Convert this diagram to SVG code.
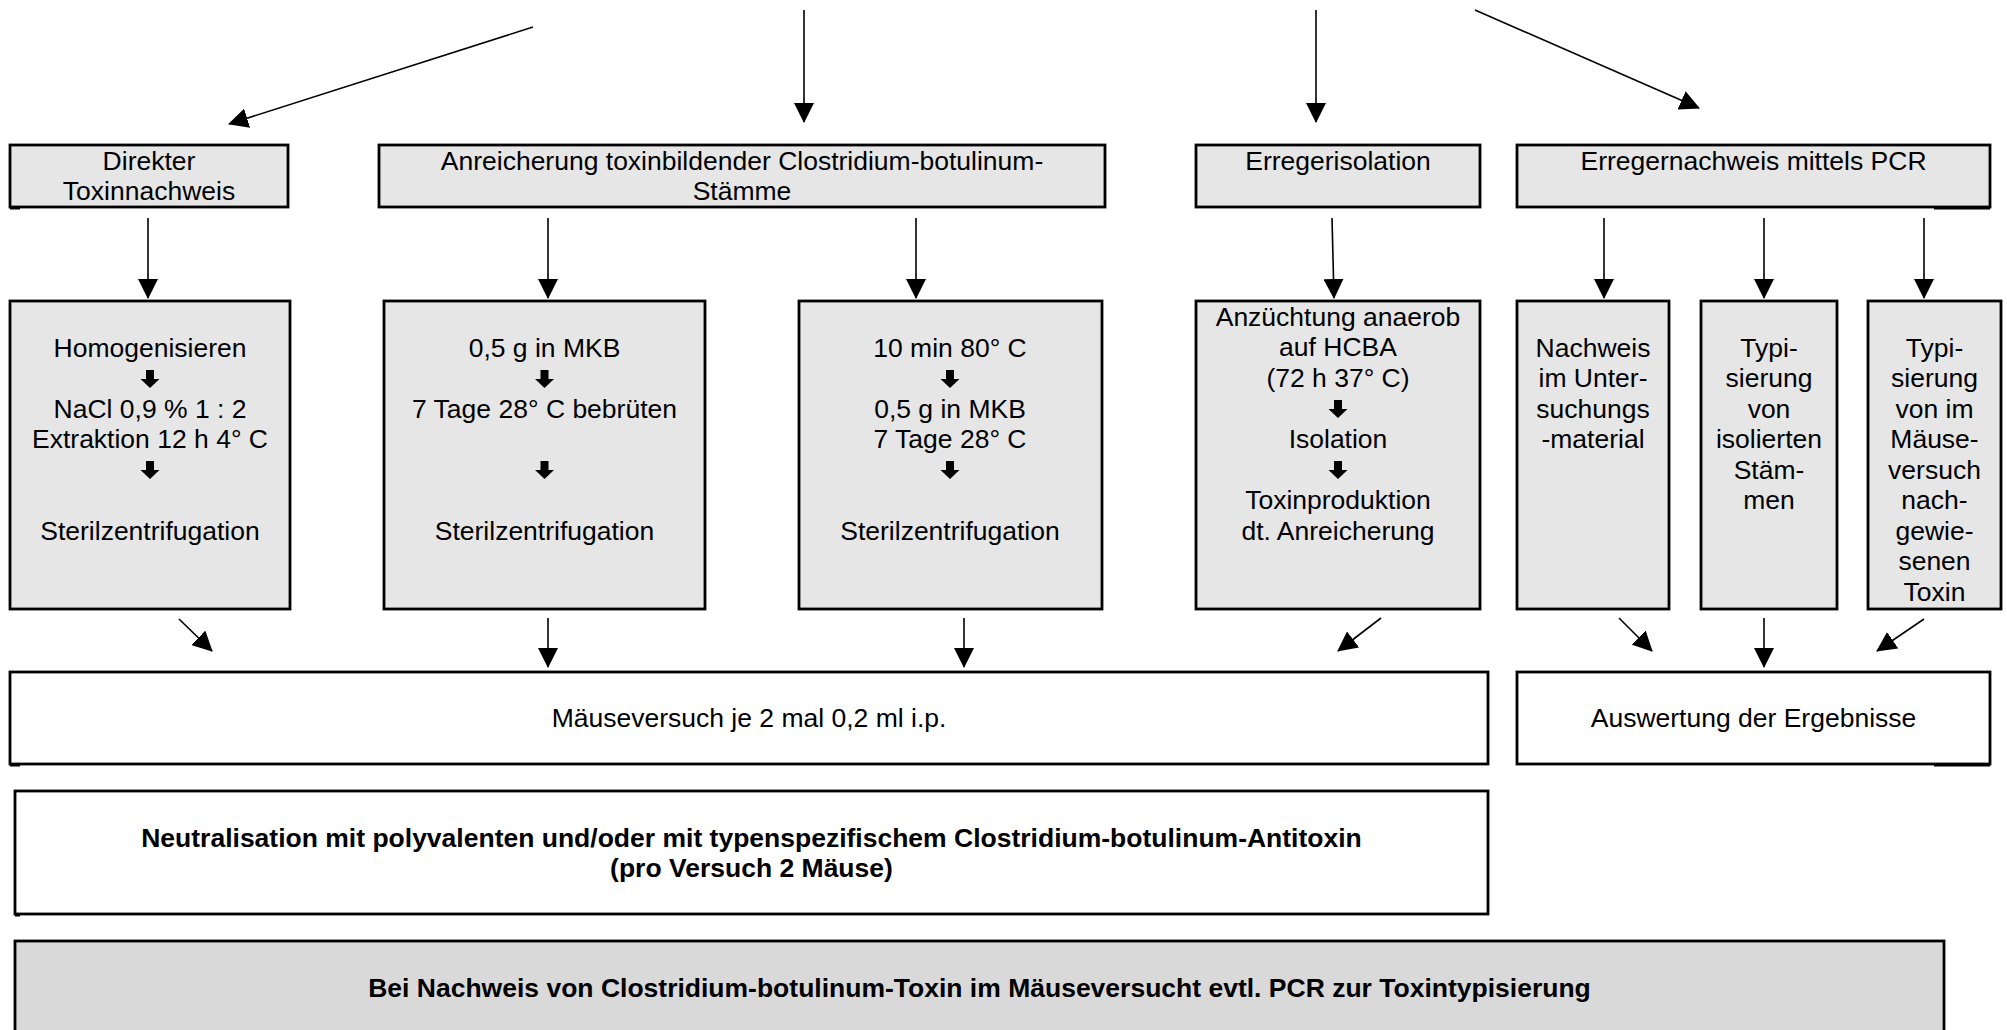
<svg xmlns="http://www.w3.org/2000/svg" width="2007" height="1030" viewBox="0 0 2007 1030">
<style>
rect{stroke:#000;stroke-width:2.8}
.g{fill:#e6e6e6}
.w{fill:#fff}
.d{fill:#d9d9d9}
text{font-family:"Liberation Sans",Arial,Helvetica,sans-serif;font-size:26.5px;text-anchor:middle;fill:#000}
.b{font-weight:bold}
#connectors line{stroke:#000;stroke-width:1.6;fill:none;marker-end:url(#ah)}
.tick{stroke:#000;stroke-width:3}
</style>
<defs>
<marker id="ah" viewBox="0 0 20 20" refX="19" refY="10" markerWidth="20" markerHeight="20" markerUnits="userSpaceOnUse" orient="auto">
<path d="M0,0 L20,10 L0,20 z" fill="#000"/>
</marker>
<g id="dn"><rect x="-4" y="0" width="8" height="9.5" fill="#000" style="stroke:none"/><polygon points="-9.5,9 9.5,9 0,18" fill="#000"/></g>
</defs>
<rect x="0" y="0" width="2007" height="1030" fill="#fff" style="stroke:none"/>

<g id="connectors">
<line x1="533" y1="27" x2="229" y2="124"/>
<line x1="804" y1="10" x2="804" y2="122"/>
<line x1="1316" y1="10" x2="1316" y2="122"/>
<line x1="1475" y1="10" x2="1699" y2="108"/>
<line x1="148" y1="218" x2="148" y2="298"/>
<line x1="548" y1="218" x2="548" y2="298"/>
<line x1="916" y1="218" x2="916" y2="298"/>
<line x1="1332" y1="218" x2="1334" y2="298"/>
<line x1="1604" y1="218" x2="1604" y2="298"/>
<line x1="1764" y1="218" x2="1764" y2="298"/>
<line x1="1924" y1="218" x2="1924" y2="298"/>
<line x1="179" y1="619" x2="212" y2="651"/>
<line x1="548" y1="618" x2="548" y2="667"/>
<line x1="964" y1="618" x2="964" y2="667"/>
<line x1="1381" y1="618" x2="1338" y2="651"/>
<line x1="1619" y1="618" x2="1652" y2="651"/>
<line x1="1764" y1="618" x2="1764" y2="667"/>
<line x1="1924" y1="619" x2="1877" y2="651"/>
</g>

<g id="n-direkt">
<rect class="g" x="10" y="145" width="278" height="62"/>
<line class="tick" x1="10" y1="208" x2="20" y2="208"/>
<text x="149" y="170">Direkter</text>
<text x="149" y="200">Toxinnachweis</text>
</g>
<g id="n-anreicherung">
<rect class="g" x="379" y="145" width="726" height="62"/>
<text x="742" y="170">Anreicherung toxinbildender Clostridium-botulinum-</text>
<text x="742" y="200">Stämme</text>
</g>
<g id="n-erregerisolation">
<rect class="g" x="1196" y="145" width="284" height="62"/>
<text x="1338" y="170">Erregerisolation</text>
</g>
<g id="n-pcr">
<rect class="g" x="1517" y="145" width="473" height="62"/>
<line class="tick" x1="1934" y1="208" x2="1990" y2="208"/>
<text x="1753.5" y="170">Erregernachweis mittels PCR</text>
</g>

<g id="n-homogen">
<rect class="g" x="10" y="301" width="280" height="308"/>
<text x="150" y="357">Homogenisieren</text>
<use href="#dn" x="150" y="370"/>
<text x="150" y="418">NaCl 0,9 % 1 : 2</text>
<text x="150" y="448">Extraktion 12 h 4° C</text>
<use href="#dn" x="150" y="461"/>
<text x="150" y="540">Sterilzentrifugation</text>
</g>
<g id="n-mkb">
<rect class="g" x="384" y="301" width="321" height="308"/>
<text x="544.5" y="357">0,5 g in MKB</text>
<use href="#dn" x="544.5" y="370"/>
<text x="544.5" y="418">7 Tage 28° C bebrüten</text>
<use href="#dn" x="544.5" y="461"/>
<text x="544.5" y="540">Sterilzentrifugation</text>
</g>
<g id="n-10min">
<rect class="g" x="799" y="301" width="303" height="308"/>
<text x="950" y="357">10 min 80° C</text>
<use href="#dn" x="950" y="370"/>
<text x="950" y="418">0,5 g in MKB</text>
<text x="950" y="448">7 Tage 28° C</text>
<use href="#dn" x="950" y="461"/>
<text x="950" y="540">Sterilzentrifugation</text>
</g>
<g id="n-anzuechtung">
<rect class="g" x="1196" y="301" width="284" height="308"/>
<text x="1338" y="326">Anzüchtung anaerob</text>
<text x="1338" y="356">auf HCBA</text>
<text x="1338" y="387">(72 h 37° C)</text>
<use href="#dn" x="1338" y="400"/>
<text x="1338" y="448">Isolation</text>
<use href="#dn" x="1338" y="461"/>
<text x="1338" y="509">Toxinproduktion</text>
<text x="1338" y="540">dt. Anreicherung</text>
</g>
<g id="n-nachweis">
<rect class="g" x="1517" y="301" width="152" height="308"/>
<text x="1593" y="357">Nachweis</text>
<text x="1593" y="387">im Unter-</text>
<text x="1593" y="418">suchungs</text>
<text x="1593" y="448">-material</text>
</g>
<g id="n-typ-isoliert">
<rect class="g" x="1701" y="301" width="136" height="308"/>
<text x="1769" y="357">Typi-</text>
<text x="1769" y="387">sierung</text>
<text x="1769" y="418">von</text>
<text x="1769" y="448">isolierten</text>
<text x="1769" y="479">Stäm-</text>
<text x="1769" y="509">men</text>
</g>
<g id="n-typ-maus">
<rect class="g" x="1868" y="301" width="133" height="308"/>
<text x="1934.5" y="357">Typi-</text>
<text x="1934.5" y="387">sierung</text>
<text x="1934.5" y="418">von im</text>
<text x="1934.5" y="448">Mäuse-</text>
<text x="1934.5" y="479">versuch</text>
<text x="1934.5" y="509">nach-</text>
<text x="1934.5" y="540">gewie-</text>
<text x="1934.5" y="570">senen</text>
<text x="1934.5" y="601">Toxin</text>
</g>

<g id="n-maeuseversuch">
<rect class="w" x="10" y="672" width="1478" height="92"/>
<line class="tick" x1="10" y1="765" x2="20" y2="765"/>
<text x="749" y="727">Mäuseversuch je 2 mal 0,2 ml i.p.</text>
</g>
<g id="n-auswertung">
<rect class="w" x="1517" y="672" width="473" height="92"/>
<line class="tick" x1="1934" y1="765" x2="1990" y2="765"/>
<text x="1753.5" y="727">Auswertung der Ergebnisse</text>
</g>
<g id="n-neutralisation">
<rect class="w" x="15" y="791" width="1473" height="123"/>
<line class="tick" x1="15" y1="915" x2="20" y2="915"/>
<text class="b" x="751.5" y="847">Neutralisation mit polyvalenten und/oder mit typenspezifischem Clostridium-botulinum-Antitoxin</text>
<text class="b" x="751.5" y="877">(pro Versuch 2 Mäuse)</text>
</g>
<g id="n-pcr-typisierung">
<rect class="d" x="15" y="941" width="1929" height="110"/>
<text class="b" x="979.5" y="997">Bei Nachweis von Clostridium-botulinum-Toxin im Mäuseversucht evtl. PCR zur Toxintypisierung</text>
</g>
</svg>
